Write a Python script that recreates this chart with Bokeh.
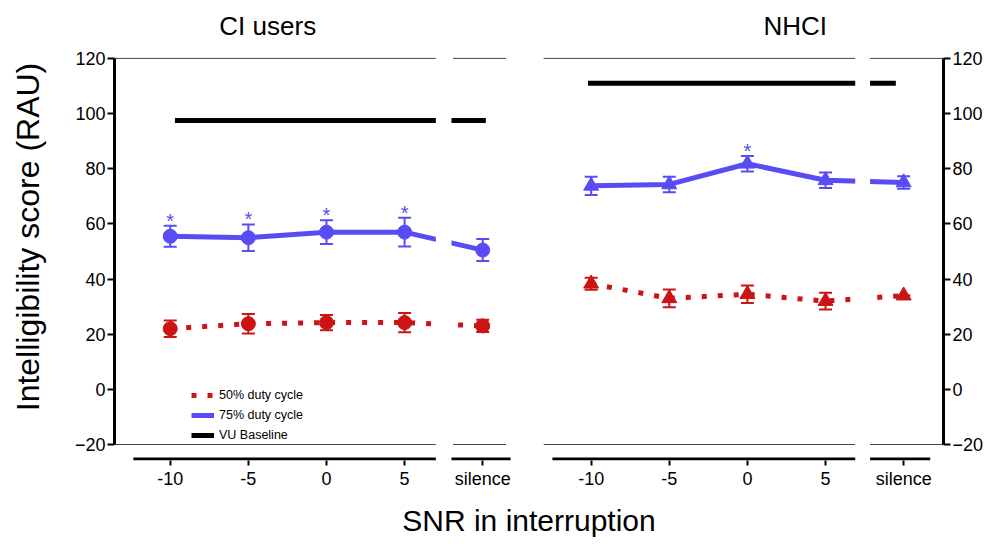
from bokeh.plotting import figure
from bokeh.models import (ColumnDataSource, LinearAxis, FixedTicker, Range1d,
                          Whisker, TeeHead, Legend, LegendItem)
from bokeh.core.properties import value
from bokeh.embed import file_html
from bokeh.resources import INLINE

# ---------------- data ----------------
snr_labels = ["-10", "-5", "0", "5", "silence"]
snr_pos = [-10, -5, 0, 5, 10]          # position of each condition inside a panel
panels = ["CI users", "NHCI"]
panel_offset = [0, 26.94]              # horizontal offset of each panel

# CI users (circles)
ci_75 = [55.5, 55.0, 57.0, 57.0, 50.5]
ci_75_err = [3.8, 4.8, 4.3, 5.2, 4.0]
ci_50 = [22.0, 23.8, 24.2, 24.2, 23.0]
ci_50_err = [3.0, 3.5, 2.8, 3.5, 2.2]
ci_baseline = 97.5
ci_sig = [True, True, True, True, False]

# NHCI (triangles)
nh_75 = [73.8, 74.3, 81.8, 75.8, 75.0]
nh_75_err = [3.3, 2.8, 2.8, 2.8, 2.3]
nh_50 = [38.3, 33.0, 34.5, 32.0, 34.0]
nh_50_err = [2.2, 3.2, 3.2, 3.0, 0.0]
nh_baseline = 111.0
nh_sig = [False, False, True, False, False]

BLUE = "#5a4cf5"
RED = "#cc1414"
FONT = "Liberation Sans"

X0, X1 = -13.567, 39.49
Y0, Y1 = -25.79, 136.28
OFF = panel_offset[1]

p = figure(width=986, height=539, output_backend="svg", toolbar_location=None,
           x_range=Range1d(X0, X1), y_range=Range1d(Y0, Y1),
           min_border_left=114, min_border_right=39, min_border_top=13,
           min_border_bottom=78)
p.xaxis.visible = False
p.yaxis.visible = False
p.xgrid.visible = False
p.ygrid.visible = False
p.outline_line_color = None
p.background_fill_color = "white"

# ---- y axes ----
yticks = [-20, 0, 20, 40, 60, 80, 100, 120]
for side in ["left", "right"]:
    ax = LinearAxis(ticker=FixedTicker(ticks=yticks), bounds=(-20, 120))
    ax.axis_line_width = 3
    ax.axis_line_color = "black"
    ax.major_tick_line_width = 2
    ax.major_tick_line_color = "black"
    ax.major_tick_out = 7
    ax.major_tick_in = 0
    ax.minor_tick_out = 0
    ax.minor_tick_in = 0
    ax.major_label_text_font = FONT
    ax.major_label_text_font_size = "18px"
    ax.major_label_text_color = "black"
    ax.major_label_standoff = 2
    if side == "left":
        ax.axis_label = "Intelligibility score (RAU)"
        ax.axis_label_text_font = FONT
        ax.axis_label_text_font_size = "32px"
        ax.axis_label_text_font_style = "normal"
        ax.axis_label_text_color = "black"
        ax.axis_label_standoff = 26
    p.add_layout(ax, side)

# ---- x axis (ticks and labels) ----
xt = []
xl = {}
for off in panel_offset:
    for pos, lab in zip(snr_pos, snr_labels):
        xt.append(pos + off)
        xl[pos + off] = lab
xax = LinearAxis(ticker=FixedTicker(ticks=xt), major_label_overrides=xl)
xax.axis_line_alpha = 0
xax.major_tick_line_width = 2
xax.major_tick_line_color = "black"
xax.major_tick_out = 5
xax.major_tick_in = 0
xax.minor_tick_out = 0
xax.minor_tick_in = 0
xax.major_label_text_font = FONT
xax.major_label_text_font_size = "18px"
xax.major_label_text_color = "black"
xax.major_label_standoff = 3
xax.axis_label = "SNR in interruption"
xax.axis_label_text_font = FONT
xax.axis_label_text_font_size = "30px"
xax.axis_label_text_font_style = "normal"
xax.axis_label_text_color = "black"
xax.axis_label_standoff = 12
p.add_layout(xax, "below")

# ---- frame lines (top/bottom thin lines and segmented x axis lines) ----
tx0 = [X0, 8.1, 13.9, OFF + 7.85]
tx1 = [7.1, 11.5, OFF + 6.9, X1]
p.segment(x0=tx0, x1=tx1, y0=[120] * 4, y1=[120] * 4,
          line_color="#444444", line_width=1)
p.segment(x0=tx0, x1=tx1, y0=[-20] * 4, y1=[-20] * 4,
          line_color="#444444", line_width=1)
xline_y = Y0 + 0.5
p.segment(x0=[-12.36, 8.0, OFF - 12.48, OFF + 7.85],
          x1=[7.0, 11.78, OFF + 6.9, OFF + 11.7],
          y0=[xline_y] * 4, y1=[xline_y] * 4, line_color="black", line_width=3)

# ---- data series ----
legend_items = []
series = [
    (0, ci_75, ci_75_err, ci_50, ci_50_err, ci_baseline, ci_sig, "circle", (-9.7, 10.2)),
    (OFF, nh_75, nh_75_err, nh_50, nh_50_err, nh_baseline, nh_sig, "triangle", (-10.2, 9.5)),
]
for off, v75, e75, v50, e50, base, sig, marker, bspan in series:
    xs = [x + off for x in snr_pos]
    rb = p.line([bspan[0] + off, bspan[1] + off], [base, base], line_color="black",
                line_width=5)
    r50 = p.line(xs, v50, line_color=RED, line_width=5, line_dash="5 11")
    r75 = p.line(xs, v75, line_color=BLUE, line_width=5)
    for vals, errs, col in [(v75, e75, BLUE), (v50, e50, RED)]:
        src = ColumnDataSource(dict(x=xs, up=[v + e for v, e in zip(vals, errs)],
                                    lo=[v - e for v, e in zip(vals, errs)]))
        w = Whisker(source=src, base="x", upper="up", lower="lo",
                    line_color=col, line_width=2,
                    upper_head=TeeHead(size=13, line_color=col, line_width=2),
                    lower_head=TeeHead(size=13, line_color=col, line_width=2))
        p.add_layout(w)
        p.scatter(xs, vals, marker=marker, size=14 if marker == "circle" else 15,
                  fill_color=col, line_color=col)
    sx = [x for x, s in zip(xs, sig) if s]
    sy = [v + e + 1.8 for v, e, s in zip(v75, e75, sig) if s]
    p.text(x=sx, y=sy, text=["*"] * len(sx), text_color=BLUE,
           text_font=value(FONT), text_font_size="20px", text_align="center",
           text_baseline="middle")
    if off == 0:
        legend_items = [LegendItem(label="50% duty cycle", renderers=[r50]),
                        LegendItem(label="75% duty cycle", renderers=[r75]),
                        LegendItem(label="VU Baseline", renderers=[rb])]

# axis-break gaps (white bands)
p.quad(left=[7.0, OFF + 6.9], right=[8.0, OFF + 7.85], bottom=[-22, -22],
       top=[125, 125], fill_color="white", line_color=None)

# titles
p.text(x=[-3.76, OFF + 3.06], y=[131.9, 131.9], text=panels, text_color="black",
       text_font=value(FONT), text_font_size="26px", text_align="center",
       text_baseline="middle")

legend = Legend(items=legend_items, location=(77, 15))
legend.label_text_font = FONT
legend.label_text_font_size = "12.5px"
legend.label_text_color = "black"
legend.glyph_width = 23
legend.glyph_height = 20
legend.label_height = 20
legend.spacing = 0
legend.padding = 2
legend.label_standoff = 5
legend.border_line_color = None
legend.background_fill_alpha = 0
p.add_layout(legend)

open("out.html", "w").write(file_html(p, INLINE))
